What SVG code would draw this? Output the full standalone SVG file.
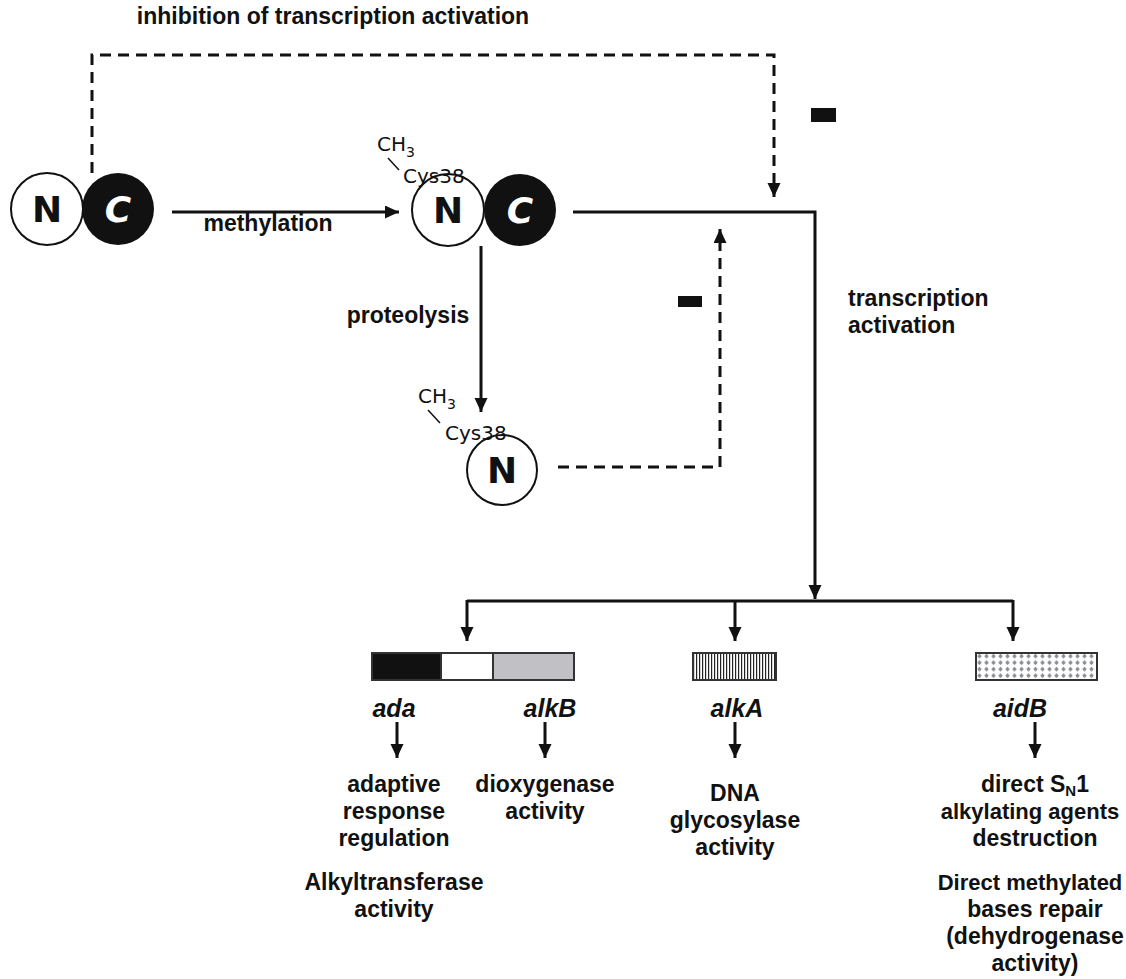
<svg xmlns="http://www.w3.org/2000/svg" width="1126" height="979" viewBox="0 0 1126 979">
<style>
.lbl{font-family:"Liberation Sans",Arial,sans-serif;font-weight:bold;font-size:23px;fill:#111;text-anchor:middle}
.gene{font-family:"Liberation Sans",Arial,sans-serif;font-weight:bold;font-style:italic;font-size:25px;fill:#111;text-anchor:middle}
.let{font-family:"DejaVu Sans",sans-serif;font-weight:bold;font-size:36px;text-anchor:middle}
.cys{font-family:"DejaVu Sans",sans-serif;font-size:20px;fill:#111}
.ln{fill:none;stroke:#111;stroke-width:3}
.dash{fill:none;stroke:#111;stroke-width:3;stroke-dasharray:11 7}
.thin{stroke:#111;stroke-width:1.5}
.box{stroke:#333;stroke-width:2}
</style>
<defs>
<marker id="ah" markerUnits="userSpaceOnUse" markerWidth="14" markerHeight="14" refX="14" refY="6.5" orient="auto">
<path d="M0,0 L14,6.5 L0,13 z" fill="#111"/>
</marker>
<pattern id="stripes" patternUnits="userSpaceOnUse" width="3" height="10">
<rect width="3" height="10" fill="#fff"/>
<rect x="0" width="1.2" height="10" fill="#222"/>
</pattern>
<pattern id="dots" patternUnits="userSpaceOnUse" x="976" y="653" width="7" height="6.5">
<rect width="7" height="6.5" fill="#fff"/>
<path d="M3.5,0.8 L5.8,3.2 L3.5,5.6 L1.2,3.2 z" fill="#8a8e94"/>
</pattern>
</defs>

<g id="title">
<text class="lbl" x="333" y="24">inhibition of transcription activation</text>
</g>

<g id="connectors">
<path class="dash" d="M92,173 V55 H774 V197" marker-end="url(#ah)"/>
<line class="ln" x1="172" y1="212" x2="399" y2="212" marker-end="url(#ah)"/>
<path class="ln" d="M573,212 H815 V599" marker-end="url(#ah)"/>
<line class="ln" x1="481" y1="246" x2="481" y2="412" marker-end="url(#ah)"/>
<path class="dash" d="M558,467 H720 V229" marker-end="url(#ah)"/>
<path class="ln" d="M467,601 H1013"/>
<line class="ln" x1="467" y1="600" x2="467" y2="641" marker-end="url(#ah)"/>
<line class="ln" x1="735" y1="600" x2="735" y2="641" marker-end="url(#ah)"/>
<line class="ln" x1="1013" y1="600" x2="1013" y2="641" marker-end="url(#ah)"/>
<line class="ln" x1="397" y1="722" x2="397" y2="758" marker-end="url(#ah)"/>
<line class="ln" x1="545" y1="722" x2="545" y2="758" marker-end="url(#ah)"/>
<line class="ln" x1="735" y1="722" x2="735" y2="758" marker-end="url(#ah)"/>
<line class="ln" x1="1035" y1="722" x2="1035" y2="758" marker-end="url(#ah)"/>
<rect x="811" y="108" width="25" height="14" fill="#111"/>
<rect x="678" y="296" width="24" height="11" fill="#111"/>
</g>

<g id="labels">
<text class="lbl" x="268" y="231">methylation</text>
<text class="lbl" x="408" y="323">proteolysis</text>
<text class="lbl" x="848" y="306" style="text-anchor:start">transcription</text>
<text class="lbl" x="848" y="333" style="text-anchor:start">activation</text>
</g>

<g id="ada-protein">
<circle cx="47" cy="209" r="36" fill="#fff" stroke="#111" stroke-width="2"/>
<circle cx="118" cy="209" r="36" fill="#111"/>
<text class="let" x="47" y="222" fill="#111">N</text>
<text class="let" x="118" y="222" fill="#fff" font-style="italic">C</text>
</g>

<g id="methylated-ada">
<circle cx="448" cy="210" r="36" fill="#fff" stroke="#111" stroke-width="2"/>
<circle cx="520" cy="210" r="36" fill="#111"/>
<text class="let" x="448" y="223" fill="#111">N</text>
<text class="let" x="520" y="223" fill="#fff" font-style="italic">C</text>
<text class="cys" x="377" y="151">CH<tspan font-size="14" dy="6">3</tspan></text>
<line class="thin" x1="388" y1="158" x2="399" y2="170"/>
<text class="cys" x="403" y="183">Cys38</text>
</g>

<g id="n-fragment">
<circle cx="502" cy="470" r="35" fill="#fff" stroke="#111" stroke-width="2"/>
<text class="let" x="502" y="483" fill="#111">N</text>
<text class="cys" x="418" y="403">CH<tspan font-size="14" dy="6">3</tspan></text>
<line class="thin" x1="428" y1="410" x2="440" y2="423"/>
<text class="cys" x="445" y="440">Cys38</text>
</g>

<g id="ada-alkB">
<rect class="box" x="372" y="653" width="69" height="27" fill="#111"/>
<rect class="box" x="441" y="653" width="52" height="27" fill="#fff"/>
<rect class="box" x="493" y="653" width="81" height="27" fill="#c1c1c5"/>
<text class="gene" x="394" y="717">ada</text>
<text class="gene" x="550" y="717">alkB</text>
<text class="lbl" x="394" y="792">adaptive</text>
<text class="lbl" x="394" y="819">response</text>
<text class="lbl" x="394" y="846">regulation</text>
<text class="lbl" x="394" y="890">Alkyltransferase</text>
<text class="lbl" x="394" y="917">activity</text>
<text class="lbl" x="545" y="792">dioxygenase</text>
<text class="lbl" x="545" y="819">activity</text>
</g>

<g id="alkA">
<rect class="box" x="693" y="653" width="83" height="27" fill="url(#stripes)"/>
<text class="gene" x="737" y="717">alkA</text>
<text class="lbl" x="735" y="801">DNA</text>
<text class="lbl" x="735" y="828">glycosylase</text>
<text class="lbl" x="735" y="855">activity</text>
</g>

<g id="aidB">
<rect class="box" x="976" y="653" width="121" height="27" fill="url(#dots)"/>
<text class="gene" x="1020" y="717">aidB</text>
<text class="lbl" x="1035" y="792">direct S<tspan font-size="15" dy="4">N</tspan><tspan dy="-4">1</tspan></text>
<text class="lbl" x="1030" y="819" style="font-size:22px">alkylating agents</text>
<text class="lbl" x="1035" y="846">destruction</text>
<text class="lbl" x="1030" y="890" style="font-size:22px">Direct methylated</text>
<text class="lbl" x="1035" y="917">bases repair</text>
<text class="lbl" x="1035" y="944">(dehydrogenase</text>
<text class="lbl" x="1035" y="971">activity)</text>
</g>
</svg>
